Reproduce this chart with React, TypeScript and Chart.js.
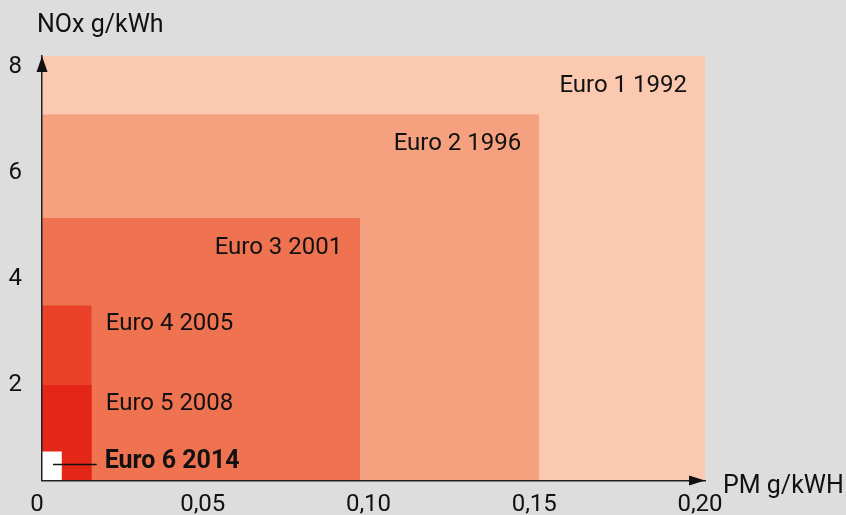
import React, { useEffect, useRef } from "react";
import { Chart, registerables } from "chart.js";

Chart.register(...registerables);

// Emission standards
const standards = ["Euro 1 1992", "Euro 2 1996", "Euro 3 2001", "Euro 4 2005", "Euro 5 2008", "Euro 6 2014"];
const pmLimits = [0.2, 0.15, 0.096, 0.015, 0.015, 0.006];
const noxLimits = [8, 6.9, 4.95, 3.3, 1.8, 0.55];
const fillColors = ["#fbc8b0", "#f5a07f", "#ef7350", "#e94228", "#e32616", "#ffffff"];

const xTickValues = [0, 0.05, 0.1, 0.15, 0.2];
const xTickLabels = ["0", "0,05", "0,10", "0,15", "0,20"];
const yTickValues = [2, 4, 6, 8];
const yTickLabels = ["2", "4", "6", "8"];

const xTitle = "PM g/kWH";
const yTitle = "NOx g/kWh";

const FONT = "Roboto, 'Noto Sans', sans-serif";

const overlayPlugin = {
  id: "overlay",
  afterDraw(chart: any) {
    const { ctx, scales } = chart;
    const xs = scales.x;
    const ys = scales.y;
    const x0 = xs.getPixelForValue(0);
    const y0 = ys.getPixelForValue(0);
    const xEnd = xs.getPixelForValue(xs.max);
    const yEnd = ys.getPixelForValue(ys.max);
    ctx.save();
    // arrows
    ctx.fillStyle = "#111";
    ctx.beginPath();
    ctx.moveTo(x0, yEnd);
    ctx.lineTo(x0 - 5.5, yEnd + 16);
    ctx.lineTo(x0 + 5.5, yEnd + 16);
    ctx.closePath();
    ctx.fill();
    ctx.beginPath();
    ctx.moveTo(xEnd, y0);
    ctx.lineTo(xEnd - 16, y0 - 5);
    ctx.lineTo(xEnd - 16, y0 + 5);
    ctx.closePath();
    ctx.fill();

    // axis titles
    ctx.fillStyle = "#111";
    ctx.textBaseline = "alphabetic";
    ctx.font = `25px ${FONT}`;
    ctx.textAlign = "left";
    ctx.fillText(yTitle, x0 - 5, yEnd - 24);
    ctx.fillText(xTitle, xEnd + 18, y0 + 12);

    // standard labels
    ctx.font = `24px ${FONT}`;
    for (let i = 0; i < standards.length; i++) {
      const px = xs.getPixelForValue(pmLimits[i]);
      const py = ys.getPixelForValue(noxLimits[i]);
      if (i < 3) {
        ctx.textAlign = "right";
        ctx.fillText(standards[i], px - 18, py + 36);
      } else if (i < 5) {
        ctx.textAlign = "left";
        ctx.fillText(standards[i], px + 14, py + 25);
      } else {
        const lx = xs.getPixelForValue(pmLimits[4]);
        ctx.textAlign = "left";
        ctx.font = `bold 25px ${FONT}`;
        ctx.fillText(standards[i], lx + 13, py + 17);
        ctx.strokeStyle = "#111";
        ctx.lineWidth = 1.5;
        ctx.beginPath();
        ctx.moveTo(x0 + 11, py + 13);
        ctx.lineTo(lx + 5, py + 13);
        ctx.stroke();
      }
    }
    ctx.restore();
  },
};

export default function App() {
  const ref = useRef<HTMLCanvasElement | null>(null);
  useEffect(() => {
    if (!ref.current) return;
    const datasets = standards.map((name, i) => ({
      label: name,
      data: [
        { x: 0, y: noxLimits[i] },
        { x: pmLimits[i], y: noxLimits[i] },
        { x: pmLimits[i], y: 0 },
      ],
      showLine: true,
      fill: "origin",
      backgroundColor: fillColors[i],
      borderWidth: 0,
      borderColor: "rgba(0,0,0,0)",
      pointRadius: 0,
      order: standards.length - i,
    }));
    const chart = new Chart(ref.current, {
      type: "scatter",
      data: { datasets: datasets as any },
      options: {
        animation: false,
        responsive: false,
        maintainAspectRatio: false,
        layout: { padding: { top: 56, right: 141, left: 0, bottom: 0 } },
        plugins: { legend: { display: false }, tooltip: { enabled: false } },
        scales: {
          x: {
            type: "linear",
            min: 0,
            max: 0.2,
            afterBuildTicks: (s: any) => {
              s.ticks = xTickValues.map((v) => ({ value: v }));
            },
            afterFit: (s: any) => {
              s.height = 33;
            },
            ticks: {
              color: "#111",
              font: { family: FONT, size: 24 },
              padding: 10,
              labelOffset: -5,
              maxRotation: 0,
              autoSkip: false,
              callback: (_v: any, i: number) => xTickLabels[i],
            },
            grid: { display: false, drawTicks: false },
            border: { display: true, color: "#222", width: 1.5, z: 1 },
          },
          y: {
            type: "linear",
            min: 0,
            max: 8,
            afterBuildTicks: (s: any) => {
              s.ticks = yTickValues.map((v) => ({ value: v }));
            },
            afterFit: (s: any) => {
              s.width = 42;
            },
            ticks: {
              color: "#111",
              font: { family: FONT, size: 24 },
              padding: 20,
              labelOffset: 11,
              autoSkip: false,
              callback: (_v: any, i: number) => yTickLabels[i],
            },
            grid: { display: false, drawTicks: false },
            border: { display: true, color: "#222", width: 1.5, z: 1 },
          },
        },
      },
      plugins: [overlayPlugin],
    });
    return () => chart.destroy();
  }, []);
  return (
    <div style={{ position: "fixed", left: 0, top: 0, width: 846, height: 515, background: "#dddddd" }}>
      <canvas ref={ref} width={846} height={515} style={{ display: "block", width: 846, height: 515 }} />
    </div>
  );
}
